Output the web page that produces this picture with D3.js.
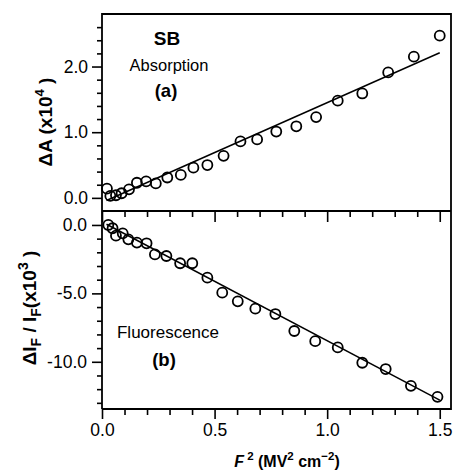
<!DOCTYPE html>
<html><head><meta charset="utf-8">
<script src="https://cdn.jsdelivr.net/npm/d3@7"></script>
<style>
body{margin:0;background:#fff;}
svg{display:block;font-family:"Liberation Sans",Arial,Helvetica,sans-serif;}
</style></head>
<body><svg id="c" width="453" height="472"></svg>
<script>
// ---- data ----
const absX = [0.022,0.037,0.062,0.087,0.12,0.155,0.196,0.239,0.29,0.35,0.406,0.468,0.54,0.615,0.689,0.774,0.863,0.951,1.047,1.156,1.271,1.385,1.5];
const absY = [0.14,0.03,0.04,0.07,0.13,0.23,0.25,0.22,0.31,0.35,0.46,0.50,0.64,0.86,0.89,1.01,1.09,1.23,1.48,1.59,1.91,2.15,2.47];
const fluX = [0.028,0.047,0.062,0.092,0.117,0.155,0.198,0.235,0.286,0.347,0.401,0.468,0.534,0.603,0.681,0.770,0.854,0.947,1.047,1.156,1.26,1.372,1.49];
const fluY = [0.0,-0.24,-0.78,-0.61,-1.05,-1.29,-1.34,-2.15,-2.27,-2.80,-2.80,-3.85,-4.95,-5.58,-6.12,-6.51,-7.75,-8.49,-8.95,-10.07,-10.53,-11.76,-12.56];
const fitX = [0.02, 1.5];
const fitAbs = [-0.04, 2.21];
const fitFlu = [0.05, -12.8];
const xMajor = [0, 0.5, 1.0, 1.5];
const xMinor = [0.1,0.2,0.3,0.4,0.6,0.7,0.8,0.9,1.1,1.2,1.3,1.4];
const absMajor = [0, 1, 2];
const absMinor = [0.2,0.4,0.6,0.8,1.2,1.4,1.6,1.8,2.2,2.4,2.6];
const fluMajor = [0, -5, -10];
const fluMinor = [-1,-2,-3,-4,-6,-7,-8,-9,-11,-12,-13];

const svg = d3.select("#c");
const L = 102, R = 451, T1 = 14, B1 = 211, B2 = 409;
const x = d3.scaleLinear().domain([0, 1.55]).range([L, R]);
const y1 = d3.scaleLinear().domain([-0.2, 2.8]).range([B1, T1]);
const y2 = d3.scaleLinear().domain([-13.45, 1.02]).range([B2, B1]);

function styleAxis(g){
  g.select(".domain").remove();
  g.selectAll("line").attr("stroke","#000").attr("stroke-width",1.6);
  g.selectAll("text").attr("font-size",17.5).attr("fill","#000").attr("font-family",'"Liberation Sans",Arial,sans-serif');
}
const fmt = d3.format(".1f");
const fmtMinus = d => fmt(d).replace("\u2212","-");

// top panel y axis
svg.append("g").attr("transform",`translate(${L},0)`)
  .call(d3.axisLeft(y1).tickValues(absMinor).tickSize(5).tickFormat("")).call(styleAxis);
svg.append("g").attr("transform",`translate(${L},0)`)
  .call(d3.axisLeft(y1).tickValues(absMajor).tickSize(10).tickPadding(4).tickFormat(fmtMinus)).call(styleAxis);
// bottom panel y axis
svg.append("g").attr("transform",`translate(${L},0)`)
  .call(d3.axisLeft(y2).tickValues(fluMinor).tickSize(5).tickFormat("")).call(styleAxis);
svg.append("g").attr("transform",`translate(${L},0)`)
  .call(d3.axisLeft(y2).tickValues(fluMajor).tickSize(10).tickPadding(5).tickFormat(fmtMinus)).call(styleAxis);
// top panel x ticks (down, no labels)
svg.append("g").attr("transform",`translate(0,${B1})`)
  .call(d3.axisBottom(x).tickValues(xMinor).tickSize(6).tickFormat("")).call(styleAxis);
svg.append("g").attr("transform",`translate(0,${B1})`)
  .call(d3.axisBottom(x).tickValues(xMajor).tickSize(11).tickFormat("")).call(styleAxis);
// bottom panel x axis
svg.append("g").attr("transform",`translate(0,${B2})`)
  .call(d3.axisBottom(x).tickValues(xMinor).tickSize(6).tickFormat("")).call(styleAxis);
svg.append("g").attr("transform",`translate(0,${B2})`)
  .call(d3.axisBottom(x).tickValues(xMajor).tickSize(10).tickPadding(5).tickFormat(fmt)).call(styleAxis);

// frames
const frame = svg.append("g").attr("stroke","#000").attr("stroke-width",1.8).attr("fill","none");
frame.append("path").attr("d",`M${L},${B2}V${T1}H${R}V${B2}H${L}M${L},${B1}H${R}`);

// fit lines
const line = (ys, yScale) => d3.line().x((d,i)=>x(fitX[i])).y((d,i)=>yScale(ys[i]))(fitX);
svg.append("path").attr("d",line(fitAbs,y1)).attr("stroke","#000").attr("stroke-width",1.5).attr("fill","none");
svg.append("path").attr("d",line(fitFlu,y2)).attr("stroke","#000").attr("stroke-width",1.5).attr("fill","none");

// markers
svg.append("g").selectAll("circle").data(absX).join("circle")
  .attr("cx",d=>x(d)).attr("cy",(d,i)=>y1(absY[i])).attr("r",5)
  .attr("fill","none").attr("stroke","#000").attr("stroke-width",1.8);
svg.append("g").selectAll("circle").data(fluX).join("circle")
  .attr("cx",d=>x(d)).attr("cy",(d,i)=>y2(fluY[i])).attr("r",5)
  .attr("fill","none").attr("stroke","#000").attr("stroke-width",1.8);

// annotations
const ann = svg.append("g").attr("text-anchor","middle").attr("fill","#000");
ann.append("text").attr("x",167).attr("y",45).attr("font-size",19).attr("font-weight","bold").text("SB");
ann.append("text").attr("x",169).attr("y",71).attr("font-size",16.5).text("Absorption");
ann.append("text").attr("x",166).attr("y",97).attr("font-size",18.5).attr("font-weight","bold").text("(a)");
ann.append("text").attr("x",168).attr("y",338).attr("font-size",17).text("Fluorescence");
ann.append("text").attr("x",164).attr("y",366).attr("font-size",18.5).attr("font-weight","bold").text("(b)");

// y labels
const yl1 = svg.append("text").attr("transform","translate(52,122) rotate(-90)")
  .attr("text-anchor","middle").attr("font-size",19).attr("font-weight","bold");
yl1.append("tspan").text("\u0394A (x10");
yl1.append("tspan").attr("dy",-8).attr("font-size",13).text("4");
yl1.append("tspan").attr("dy",8).text(" )");

const yl2 = svg.append("text").attr("transform","translate(36,308) rotate(-90)")
  .attr("text-anchor","middle").attr("font-size",19).attr("font-weight","bold");
yl2.append("tspan").text("\u0394I");
yl2.append("tspan").attr("dy",5).attr("font-size",14).text("F");
yl2.append("tspan").attr("dy",-5).text(" / I");
yl2.append("tspan").attr("dy",5).attr("font-size",14).text("F");
yl2.append("tspan").attr("dy",-5).text("(x10");
yl2.append("tspan").attr("dy",-8).attr("font-size",14).text("3");
yl2.append("tspan").attr("dy",8).text(" )");

// x label
const xl = svg.append("text").attr("x",287).attr("y",467).attr("text-anchor","middle")
  .attr("font-size",16).attr("font-weight","bold");
xl.append("tspan").attr("font-style","italic").text("F");
xl.append("tspan").attr("dy",-7).attr("font-size",11.5).text(" 2");
xl.append("tspan").attr("dy",7).text(" (MV");
xl.append("tspan").attr("dy",-7).attr("font-size",11.5).text("2");
xl.append("tspan").attr("dy",7).text(" cm");
xl.append("tspan").attr("dy",-7).attr("font-size",11.5).text("\u22122");
xl.append("tspan").attr("dy",7).text(")");
</script>
</body></html>
